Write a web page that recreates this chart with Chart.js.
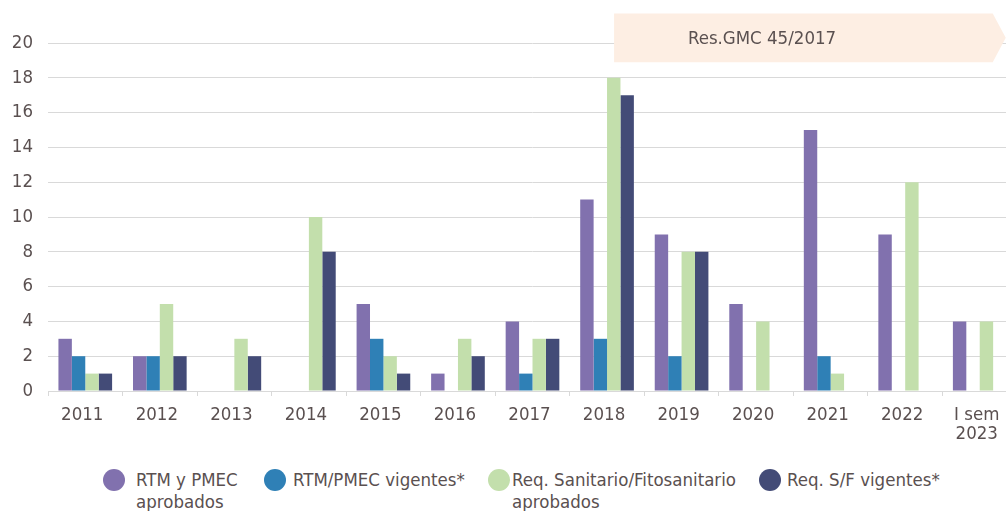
<!DOCTYPE html>
<html>
<head>
<meta charset="utf-8">
<script src="https://cdn.jsdelivr.net/npm/chart.js@4.4.1/dist/chart.umd.min.js"></script>
<style>
  html, body { margin: 0; padding: 0; background: #fff; overflow: hidden; }
  body { width: 1006px; height: 511px; position: relative; font-family: "Liberation Sans Narrow", "DejaVu Sans Condensed", sans-serif; color: #5a5050; }
  #wrap { position: absolute; left: 0; top: 0; width: 1020px; height: 460px; }
  .dot { position: absolute; width: 22px; height: 22px; border-radius: 50%; top: 469px; }
  .txt { position: absolute; top: 469px; font-size: 18.5px; line-height: 22px; white-space: nowrap; }
</style>
</head>
<body>
<div id="wrap"><canvas id="chart"></canvas></div>
<div id="legend"></div>
<script>
const categories = ['2011', '2012', '2013', '2014', '2015', '2016', '2017', '2018', '2019', '2020', '2021', '2022', ['I sem', '2023']];
const seriesNames = [['RTM y PMEC', 'aprobados'], ['RTM/PMEC vigentes*'], ['Req. Sanitario/Fitosanitario', 'aprobados'], ['Req. S/F vigentes*']];
const rtmAprobados = [3, 2, 0, 0, 5, 1, 4, 11, 9, 5, 15, 9, 4];
const rtmVigentes = [2, 2, 0, 0, 3, 0, 1, 3, 2, 0, 2, 0, 0];
const reqAprobados = [1, 5, 3, 10, 2, 3, 3, 18, 8, 4, 1, 12, 4];
const reqVigentes = [1, 2, 2, 8, 1, 2, 3, 17, 8, 0, 0, 0, 0];
const yTicks = [0, 2, 4, 6, 8, 10, 12, 14, 16, 18, 20];
const annotationText = 'Res.GMC 45/2017';

const colors = ['#8171ae', '#2f80b6', '#c3dfac', '#434b77'];
const textColor = '#5a5050';
const gridColor = '#d9d9d9';
const fontFamily = '"Liberation Sans Narrow", "DejaVu Sans Condensed", sans-serif';

// legend item positions (left of dot, left of text)
const legendPos = [[103, 136], [264, 293], [488, 512], [759, 787]];
const legend = document.getElementById('legend');
seriesNames.forEach((name, i) => {
    const dot = document.createElement('div');
    dot.className = 'dot';
    dot.style.left = legendPos[i][0] + 'px';
    dot.style.background = colors[i];
    const txt = document.createElement('div');
    txt.className = 'txt';
    txt.style.left = legendPos[i][1] + 'px';
    txt.innerHTML = name.join('<br>');
    legend.appendChild(dot);
    legend.appendChild(txt);
});

const annotationBox = {
    id: 'annotationBox',
    afterDraw(chart) {
        const x = chart.scales.x, y = chart.scales.y, ctx = chart.ctx;
        const left = x.getPixelForValue(7) + 7;
        const right = x.getPixelForValue(12) + 13;
        const tip = right + 13;
        const top = y.getPixelForValue(21.7);
        const bottom = y.getPixelForValue(18.9);
        ctx.save();
        ctx.fillStyle = '#fdeee3';
        ctx.beginPath();
        ctx.moveTo(left, top);
        ctx.lineTo(right, top);
        ctx.lineTo(tip, (top + bottom) / 2);
        ctx.lineTo(right, bottom);
        ctx.lineTo(left, bottom);
        ctx.closePath();
        ctx.fill();
        ctx.fillStyle = textColor;
        ctx.font = '18.5px ' + fontFamily;
        ctx.textAlign = 'center';
        ctx.textBaseline = 'middle';
        ctx.fillText(annotationText, left + 148, (top + bottom) / 2 + 1);
        ctx.restore();
    }
};

Chart.defaults.font.family = fontFamily;
Chart.defaults.font.size = 18.5;
Chart.defaults.color = textColor;

const makeSet = (label, data, i) => ({
    label: label.join(' '),
    data: data,
    backgroundColor: colors[i],
    borderWidth: 0,
    barPercentage: 1,
    categoryPercentage: 0.72
});

new Chart(document.getElementById('chart'), {
    type: 'bar',
    data: {
        labels: categories,
        datasets: [
            makeSet(seriesNames[0], rtmAprobados, 0),
            makeSet(seriesNames[1], rtmVigentes, 1),
            makeSet(seriesNames[2], reqAprobados, 2),
            makeSet(seriesNames[3], reqVigentes, 3)
        ]
    },
    options: {
        responsive: true,
        maintainAspectRatio: false,
        animation: false,
        layout: { padding: { top: 43, right: 3, left: 0, bottom: 0 } },
        plugins: {
            legend: { display: false },
            tooltip: { enabled: false }
        },
        scales: {
            x: {
                grid: { drawOnChartArea: false, drawTicks: true, tickLength: 5, color: gridColor },
                border: { color: gridColor },
                ticks: { padding: 9, maxRotation: 0, autoSkip: false, labelOffset: -3, font: { size: 18.5, lineHeight: 1.05 } },
                afterFit(scale) { scale.height = 69; }
            },
            y: {
                min: 0,
                max: 20,
                afterBuildTicks(scale) { scale.ticks = yTicks.map(v => ({ value: v })); },
                grid: { color: gridColor, drawTicks: false },
                border: { display: false },
                ticks: { padding: 15, font: { size: 18.5 } },
                afterFit(scale) { scale.width = 48; }
            }
        }
    },
    plugins: [annotationBox]
});
</script>
</body>
</html>
